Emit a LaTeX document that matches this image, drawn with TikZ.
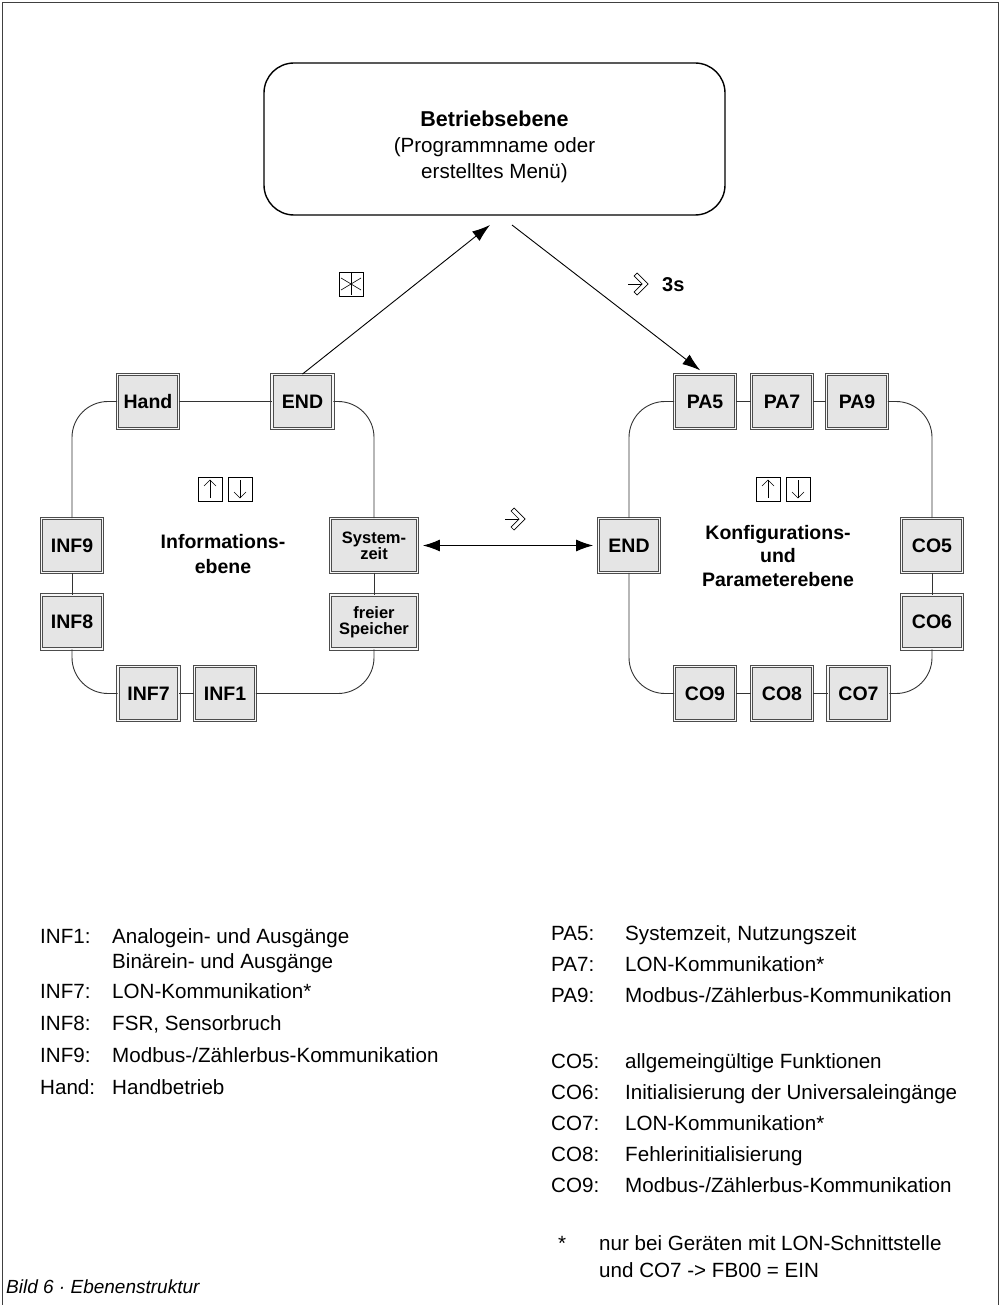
\documentclass[tikz,border=0pt]{standalone}
\usepackage{fontspec}
\setmainfont{Liberation Sans}
\usetikzlibrary{arrows.meta}
\newcommand{\knobsym}[2]{%
  \draw[line width=0.7pt] (#1-12,#2) -- (#1+2,#2);
  \draw[line width=0.7pt, line join=miter] (#1-3,#2-11) -- (#1+8,#2) -- (#1-3,#2+11) -- (#1-6,#2+8) -- (#1+2,#2) -- (#1-6,#2-8) -- cycle;}
\newcommand{\updownsym}[2]{%
  \draw[line width=0.6pt] (#1-12,#2-12) rectangle (#1+12,#2+12);
  \draw[line width=0.6pt] (#1,#2+9) -- (#1,#2-9);
  \draw[line width=0.6pt] (#1-6,#2-3) -- (#1,#2-9) -- (#1+6,#2-3);
  \draw[line width=0.6pt] (#1+18,#2-12) rectangle (#1+42,#2+12);
  \draw[line width=0.6pt] (#1+30,#2-9) -- (#1+30,#2+9);
  \draw[line width=0.6pt] (#1+24,#2+3) -- (#1+30,#2+9) -- (#1+36,#2+3);}
\begin{document}
\begin{tikzpicture}[x=1pt,y=-1pt,
  dbox/.style={draw=black!70, line width=0.9pt, double=black!3, double distance=1.4pt,
    fill=black!10, minimum width=61pt, minimum height=54pt, inner sep=0pt, align=center,
    font=\fontsize{19.5}{20}\selectfont\bfseries},
  wbox/.style={dbox, minimum width=87pt, font=\fontsize{16.5}{16}\selectfont\bfseries},
  ring/.style={draw=black!80, line width=0.9pt, rounded corners=36pt},
  arr/.style={line width=0.9pt, -{Latex[length=18pt,width=12pt]}},
  darr/.style={line width=0.9pt, {Latex[length=17pt,width=12pt]}-{Latex[length=17pt,width=12pt]}},
  leg/.style={anchor=base west, inner sep=0pt, font=\fontsize{20.6}{24}\selectfont},
  title/.style={align=center, font=\fontsize{19.5}{25}\selectfont\bfseries}]
\useasboundingbox (0,0) rectangle (1003,1305);
\draw[draw=black!75, line width=1.2pt] (2.5,1305) -- (2.5,2.5) -- (998.5,2.5) -- (998.5,1305);

% top box
\node[draw, line width=1.4pt, rounded corners=30pt, minimum width=461pt, minimum height=152pt] (top) at (494.5,139) {};
\node[align=center, font=\fontsize{20.6}{26}\selectfont] (toptxt) at (494.5,147)
  {{\bfseries\fontsize{21.5}{26}\selectfont Betriebsebene}\\(Programmname oder\\erstelltes Menü)};

% left loop
\node[dbox] (hand) at (148,401.5) {Hand};
\node[dbox] (endl) at (302.5,401.5) {END};
\node[wbox] (sys) at (374,545.5) {System-\\zeit};
\node[wbox] (frei) at (374,622) {freier\\Speicher};
\node[dbox] (inf1) at (225,693.5) {INF1};
\node[dbox] (inf7) at (148.5,693.5) {INF7};
\node[dbox] (inf8) at (72,622) {INF8};
\node[dbox] (inf9) at (72,545.5) {INF9};
\draw[ring] (hand.east) -- (endl.west);
\draw[ring] (endl.east) -| (sys.north);
\draw[ring] (sys.south) -- (frei.north);
\draw[ring] (frei.south) |- (inf1.east);
\draw[ring] (inf1.west) -- (inf7.east);
\draw[ring] (inf7.west) -| (inf8.south);
\draw[ring] (inf8.north) -- (inf9.south);
\draw[ring] (inf9.north) |- (hand.west);
\node[title] (info) at (223,554.5) {Informations-\\ebene};
\updownsym{210}{489}

% right loop
\node[dbox] (pa5) at (705,401.5) {PA5};
\node[dbox] (pa7) at (782,401.5) {PA7};
\node[dbox] (pa9) at (857,401.5) {PA9};
\node[dbox] (endr) at (629,545.5) {END};
\node[dbox] (co5) at (932,545.5) {CO5};
\node[dbox] (co6) at (932,622) {CO6};
\node[dbox] (co9) at (705,693.5) {CO9};
\node[dbox] (co8) at (782,693.5) {CO8};
\node[dbox] (co7) at (858.5,693.5) {CO7};
\draw[ring] (pa5.east) -- (pa7.west);
\draw[ring] (pa7.east) -- (pa9.west);
\draw[ring] (pa9.east) -| (co5.north);
\draw[ring] (co5.south) -- (co6.north);
\draw[ring] (co6.south) |- (co7.east);
\draw[ring] (co7.west) -- (co8.east);
\draw[ring] (co8.west) -- (co9.east);
\draw[ring] (co9.west) -| (endr.south);
\draw[ring] (endr.north) |- (pa5.west);
\node[title, font=\fontsize{19.5}{23.5}\selectfont\bfseries] (konf) at (778,556) {Konfigurations-\\und\\Parameterebene};
\updownsym{768}{489}

% connections
\coordinate (tA) at (490,225);
\coordinate (tB) at (512,225);
\draw[arr] (endl.north) -- (tA);
\draw[arr, shorten >=6pt] (tB) -- (pa5.north);
\draw[darr, shorten <=5pt, shorten >=5pt] (sys.east) -- (endr.west);

% symbols
\node[draw, line width=0.6pt, minimum size=24pt, inner sep=0pt] (ast) at (351,284) {};
\draw[line width=0.6pt] (351,273) -- (351,295);
\draw[line width=0.6pt] (341,278) -- (361,290);
\draw[line width=0.6pt] (341,290) -- (361,278);
\knobsym{640}{284}
\node[anchor=west, inner sep=0pt, font=\fontsize{20}{20}\selectfont\bfseries] (drei) at (662,285) {3s};
\knobsym{517}{519}

% legend left
\node[leg] (l1) at (40,943) {INF1:};
\node[leg] (d1) at (112,943) {Analogein- und Ausgänge};
\node[leg] (d1b) at (112,968) {Binärein- und Ausgänge};
\node[leg] (l7) at (40,998) {INF7:};
\node[leg] (d7) at (112,998) {LON-Kommunikation*};
\node[leg] (l8) at (40,1030) {INF8:};
\node[leg] (d8) at (112,1030) {FSR, Sensorbruch};
\node[leg] (l9) at (40,1062) {INF9:};
\node[leg] (d9) at (112,1062) {Modbus-/Zählerbus-Kommunikation};
\node[leg] (lh) at (40,1094) {Hand:};
\node[leg] (dh) at (112,1094) {Handbetrieb};

% legend right
\node[leg] (rp5) at (551,940) {PA5:};
\node[leg] (sp5) at (625,940) {Systemzeit, Nutzungszeit};
\node[leg] (rp7) at (551,971) {PA7:};
\node[leg] (sp7) at (625,971) {LON-Kommunikation*};
\node[leg] (rp9) at (551,1002) {PA9:};
\node[leg] (sp9) at (625,1002) {Modbus-/Zählerbus-Kommunikation};
\node[leg] (rc5) at (551,1068) {CO5:};
\node[leg] (sc5) at (625,1068) {allgemeingültige Funktionen};
\node[leg] (rc6) at (551,1099) {CO6:};
\node[leg] (sc6) at (625,1099) {Initialisierung der Universaleingänge};
\node[leg] (rc7) at (551,1130) {CO7:};
\node[leg] (sc7) at (625,1130) {LON-Kommunikation*};
\node[leg] (rc8) at (551,1161) {CO8:};
\node[leg] (sc8) at (625,1161) {Fehlerinitialisierung};
\node[leg] (rc9) at (551,1192) {CO9:};
\node[leg] (sc9) at (625,1192) {Modbus-/Zählerbus-Kommunikation};
\node[leg] (star) at (558,1250) {*};
\node[leg] (fn1) at (599,1250) {nur bei Geräten mit LON-Schnittstelle};
\node[leg] (fn2) at (599,1277) {und CO7 -> FB00 = EIN};

\node[anchor=base west, inner sep=0pt, font=\itshape\fontsize{19}{20}\selectfont] (cap) at (6,1293) {Bild 6 · Ebenenstruktur};
\end{tikzpicture}
\end{document}
